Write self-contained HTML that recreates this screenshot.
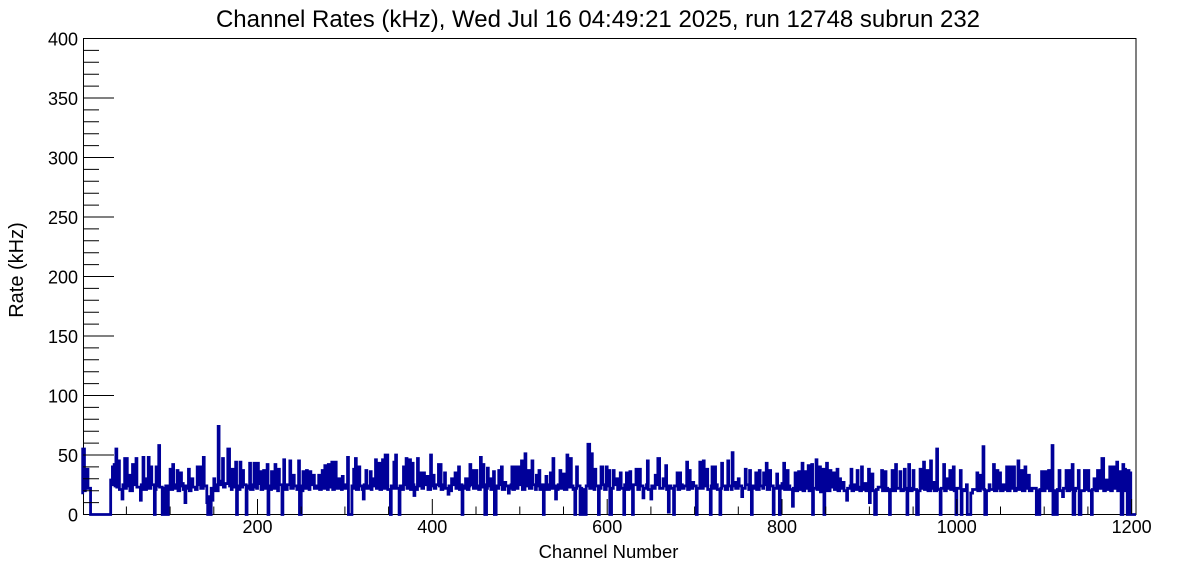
<!DOCTYPE html>
<html>
<head>
<meta charset="utf-8">
<style>
html,body{margin:0;padding:0;background:#fff;}
svg{display:block;}
text{font-family:"Liberation Sans",Arial,Helvetica,sans-serif;fill:#000;}
</style>
</head>
<body>
<svg width="1196" height="572" viewBox="0 0 1196 572" xmlns="http://www.w3.org/2000/svg">
<rect x="0" y="0" width="1196" height="572" fill="#fff"/>

<!-- Title -->
<text x="598" y="27" font-size="24" text-anchor="middle">Channel Rates (kHz), Wed Jul 16 04:49:21 2025, run 12748 subrun 232</text>

<!-- Frame -->
<rect x="83.5" y="38.5" width="1052.5" height="476" fill="none" stroke="#000" stroke-width="1"/>

<!-- Histogram -->
<g transform="translate(82.7,514.5) scale(0.8741,-1.19)">
<path fill="none" stroke="#000099" stroke-width="2.8" vector-effect="non-scaling-stroke" stroke-linejoin="miter" d="M0,17V55H2V20H3V38H4V22H5V38H6V22H9V0H32V29H34V40H35V25H36V42H37V24H38V55H39V23H41V45H42V21H45V13H46V25H48V47H49V22H50V47H51V24H53V33H54V20H57V42H58V25H61V47H62V23H66V12H67V25H69V48H70V21H73V30H74V24H75V48H76V22H78V40H79V25H82V0H83V21H84V40H85V24H87V58H88V23H91V0H92V22H93V0H95V24H96V0H98V24H100V38H101V21H103V42H104V25H106V22H108V37H109V20H111V24H112V35H113V26H115V21H117V10H118V24H120V22H121V38H122V20H124V25H125V30H126V23H129V21H131V40H132V25H134V40H135V22H138V48H139V24H142V10H143V0H144V15H145V10H146V0H147V22H148V12H149V20H150V30H151V25H153V20H155V74H156V25H158V28H160V47H161V23H163V26H166V55H168V24H170V21H171V38H172V25H173V23H175V44H176V0H177V24H179V21H180V44H181V23H183V37H184V25H187V0H188V22H190V24H191V43H192V21H195V25H196V43H197V23H199V22H200V43H201V26H203V36H204V21H206V24H207V37H208V22H210V25H211V42H212V0H213V24H215V21H216V36H217V25H219V22H220V42H221V24H223V20H224V38H225V25H228V0H229V23H230V46H231V21H234V25H237V45H238V22H241V33H242V24H245V21H247V45H248V0H250V24H251V20H252V36H253V25H255V22H256V37H257V24H259V21H260V36H261V25H264V33H265V22H268V24H270V33H271V21H273V25H274V37H275V22H277V41H278V24H280V21H281V42H282V26H284V23H285V44H286V21H288V25H289V44H290V22H293V30H294V24H296V21H297V32H298V25H300V22H303V48H304V0H308V24H309V22H310V38H311V25H312V47H313V21H316V40H317V24H320V21H321V13H322V25H324V37H325V22H328V24H329V36H330V21H331V30H332V24H335V46H336V22H338V25H339V43H340V21H342V24H343V46H344V22H346V50H347V24H348V50H349V21H352V0H353V24H355V22H356V44H357V25H358V50H359V22H362V0H363V24H366V21H367V40H368V25H370V47H371V22H373V24H374V46H375V21H377V43H378V25H379V16H380V23H382V21H383V47H384V24H387V35H388V22H390V35H391V25H394V32H395V21H398V50H399V24H401V33H402V22H404V25H407V42H408V24H409V42H410V21H412V25H414V35H415V22H418V17H419V24H421V20H422V30H423V25H426V35H427V22H429V24H430V40H431V21H433V25H434V0H435V24H436V22H438V30H440V21H442V24H443V42H444V25H446V37H447V22H450V37H451V24H453V21H455V48H456V23H458V42H459V25H460V0H462V22H463V39H464V24H466V30H467V21H470V36H471V0H473V24H475V22H476V37H477V25H479V40H480V21H483V27H484V24H487V18H488V22H490V25H491V40H492V21H494V24H495V40H496V22H498V40H499V25H502V45H503V21H506V51H507V24H510V37H511V22H514V45H515V25H518V21H519V33H520V24H522V37H523V21H525V25H527V0H528V23H530V32H531V21H534V25H535V35H536V22H538V47H539V24H541V13H542V21H544V25H546V37H547V22H549V24H550V34H551V21H554V50H555V23H558V47H559V24H561V21H563V0H564V22H565V40H566V24H569V0H570V22H571V0H573V21H574V0H576V24H578V59H580V22H582V51H583V25H585V21H586V38H587V24H590V0H591V22H593V40H595V25H597V21H599V40H600V24H602V37H603V0H605V22H607V37H608V25H611V30H612V21H614V24H615V35H616V22H619V0H620V25H622V35H623V21H625V24H626V36H627V22H629V0H630V25H633V38H635V21H637V38H638V24H641V14H642V22H645V25H646V45H647V21H650V13H651V24H654V22H655V33H656V25H658V47H660V22H664V30H665V24H667V41H668V21H670V2H671V24H673V22H676V0H677V24H680V35H681V21H683V35H684V25H686V22H688V24H691V44H692V21H694V37H695V24H697V22H698V27H699V24H702V0H703V22H706V44H707V25H709V22H710V45H711V24H714V38H715V21H718V0H719V24H720V40H721V22H723V40H724V25H726V21H729V0H730V22H731V43H732V24H735V21H738V45H739V24H742V21H743V52H744V24H746V27H747V22H750V30H751V24H754V15H755V22H758V38H759V25H762V21H763V37H764V24H765V0H766V22H768V24H770V35H771V21H774V37H775V24H778V22H779V35H780V25H782V43H783V21H786V37H787V24H790V0H791V22H794V34H795V24H797V0H798V22H800V26H801V24H802V43H803V21H806V37H807V24H809V21H812V7H813V22H815V35H816V20H818V23H819V36H820V21H822V24H823V43H824V20H826V36H827V22H830V41H831V20H834V42H835V0H836V22H839V46H840V21H843V40H844V19H847V38H848V0H849V22H851V43H852V20H855V37H856V23H859V35H860V21H863V38H864V20H866V30H867V22H870V27H871V20H874V12H875V22H878V24H879V38H880V20H882V25H883V21H886V37H887V23H889V20H891V40H892V21H895V26H896V20H899V38H900V10H901V22H903V34H904V20H906V0H908V21H910V23H914V37H915V20H918V36H919V22H921V20H923V0H924V21H926V37H927V20H930V42H931V22H935V36H936V20H939V21H940V38H941V22H943V0H944V21H945V42H946V20H949V22H950V37H951V21H954V0H956V20H958V38H959V22H962V44H963V21H966V37H967V20H970V45H971V22H973V27H974V20H977V55H978V21H981V0H982V22H985V42H986V20H988V30H989V22H992V37H993V21H996V40H997V20H999V0H1000V22H1004V37H1005V0H1006V21H1009V20H1011V25H1012V0H1016V18H1018V21H1023V35H1024V20H1027V33H1028V22H1030V57H1031V21H1032V0H1034V20H1037V25H1038V21H1042V42H1043V20H1046V37H1047V22H1049V35H1050V20H1053V25H1054V21H1057V40H1058V20H1061V40H1062V22H1065V40H1066V20H1068V22H1070V45H1071V21H1074V37H1075V20H1078V40H1079V22H1082V33H1083V20H1086V22H1091V0H1092V20H1093V0H1095V21H1097V36H1098V20H1101V36H1102V22H1105V37H1106V20H1109V58H1110V0H1111V20H1112V0H1115V21H1117V37H1118V20H1121V15H1122V22H1125V37H1126V20H1129V37H1130V21H1132V42H1133V0H1135V20H1136V22H1139V37H1140V0H1142V20H1146V37H1148V21H1150V37H1151V20H1154V0H1155V21H1157V30H1159V20H1161V37H1163V22H1166V47H1168V20H1170V29H1172V21H1175V40H1176V20H1178V40H1180V22H1183V44H1184V20H1186V36H1188V0H1190V42H1191V20H1192V38H1193V22H1194V37H1195V0H1196V37H1197V21H1198V35H1199V0H1205"/>
</g>

<!-- Y axis ticks -->
<path fill="none" stroke="#000" stroke-width="1" d="M83,455h31M83,395.5h31M83,336h31M83,276.5h31M83,217h31M83,157.5h31M83,98h31"/>
<path fill="none" stroke="#000" stroke-width="1" d="M83,502.6h16M83,490.7h16M83,478.8h16M83,466.9h16M83,443.1h16M83,431.2h16M83,419.3h16M83,407.4h16M83,383.6h16M83,371.7h16M83,359.8h16M83,347.9h16M83,324.1h16M83,312.2h16M83,300.3h16M83,288.4h16M83,264.6h16M83,252.7h16M83,240.8h16M83,228.9h16M83,205.1h16M83,193.2h16M83,181.3h16M83,169.4h16M83,145.6h16M83,133.7h16M83,121.8h16M83,109.9h16M83,86.1h16M83,74.2h16M83,62.3h16M83,50.4h16"/>

<!-- X axis ticks -->
<path fill="none" stroke="#000" stroke-width="1" d="M257.5,514v-15M432.3,514v-15M607.2,514v-15M782,514v-15M956.8,514v-15M1131.6,514v-15"/>
<path fill="none" stroke="#000" stroke-width="1" d="M126.4,514v-7.5M170.1,514v-7.5M213.8,514v-7.5M301.2,514v-7.5M344.9,514v-7.5M388.6,514v-7.5M476,514v-7.5M519.8,514v-7.5M563.5,514v-7.5M650.9,514v-7.5M694.6,514v-7.5M738.3,514v-7.5M825.7,514v-7.5M869.4,514v-7.5M913.1,514v-7.5M1000.5,514v-7.5M1044.2,514v-7.5M1087.9,514v-7.5"/>

<!-- Y tick labels -->
<g font-size="18" text-anchor="end">
<text x="78" y="521.5">0</text>
<text x="78" y="462">50</text>
<text x="78" y="402.5">100</text>
<text x="78" y="343">150</text>
<text x="78" y="283.5">200</text>
<text x="78" y="224">250</text>
<text x="78" y="164.5">300</text>
<text x="78" y="105">350</text>
<text x="78" y="45.5">400</text>
</g>

<!-- X tick labels -->
<g font-size="18" text-anchor="middle">
<text x="257.5" y="533">200</text>
<text x="432.3" y="533">400</text>
<text x="607.2" y="533">600</text>
<text x="782" y="533">800</text>
<text x="956.8" y="533">1000</text>
<text x="1131.6" y="533">1200</text>
</g>

<!-- Axis titles -->
<text x="608.5" y="558" font-size="18.5" text-anchor="middle">Channel Number</text>
<text transform="translate(23,270) rotate(-90)" font-size="20" text-anchor="middle">Rate (kHz)</text>
</svg>
</body>
</html>
